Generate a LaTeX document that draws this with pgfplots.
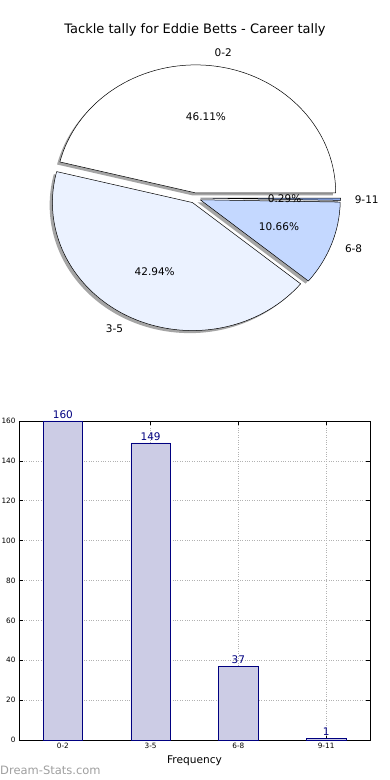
\documentclass[border=0pt]{standalone}
\usepackage{fontspec}
\setmainfont{DejaVu Sans}
\usepackage{pgfplots}
\pgfplotsset{compat=1.18}
\definecolor{cthree}{RGB}{235,242,255}
\definecolor{csix}{RGB}{196,216,255}
\definecolor{cnine}{RGB}{140,170,235}
\definecolor{barfill}{RGB}{204,204,229}
\definecolor{navy}{RGB}{0,0,128}
\definecolor{shadowgray}{gray}{0.3}
\begin{document}
\begin{tikzpicture}
\useasboundingbox (0,0) rectangle (390pt,780pt);
% ---------------- pie ----------------
\begin{axis}[at={(195pt,582pt)}, anchor=center, scale only axis,
  width=392pt, height=358.4pt, xmin=-1.4, xmax=1.4, ymin=-1.4, ymax=1.4,
  hide axis, clip=false]
% shadows (offset -0.02,-0.02)
\fill[shadowgray, opacity=0.5] (axis cs:-0.0151,0.0197) -- ++(0:140pt and 128pt) arc[start angle=0, end angle=165.996, x radius=140pt, y radius=128pt] -- cycle;
\fill[shadowgray, opacity=0.5] (axis cs:-0.0380,-0.0557) -- ++(165.996:140pt and 128pt) arc[start angle=165.996, end angle=320.58, x radius=140pt, y radius=128pt] -- cycle;
\fill[shadowgray, opacity=0.5] (axis cs:0.0175,-0.0338) -- ++(320.58:140pt and 128pt) arc[start angle=320.58, end angle=358.956, x radius=140pt, y radius=128pt] -- cycle;
\fill[shadowgray, opacity=0.5] (axis cs:0.0200,-0.0204) -- ++(358.956:140pt and 128pt) arc[start angle=358.956, end angle=360, x radius=140pt, y radius=128pt] -- cycle;
% wedges
\filldraw[fill=white, draw=black, line width=0.5pt, line join=round] (axis cs:0.0049,0.0397) -- ++(0:140pt and 128pt) arc[start angle=0, end angle=165.996, x radius=140pt, y radius=128pt] -- cycle;
\filldraw[fill=cthree, draw=black, line width=0.5pt, line join=round] (axis cs:-0.0180,-0.0357) -- ++(165.996:140pt and 128pt) arc[start angle=165.996, end angle=320.58, x radius=140pt, y radius=128pt] -- cycle;
\filldraw[fill=csix, draw=black, line width=0.5pt, line join=round] (axis cs:0.0375,-0.0138) -- ++(320.58:140pt and 128pt) arc[start angle=320.58, end angle=358.956, x radius=140pt, y radius=128pt] -- cycle;
\filldraw[fill=cnine, draw=black, line width=0.5pt, line join=round] (axis cs:0.0400,-0.0004) -- ++(358.956:140pt and 128pt) arc[start angle=358.956, end angle=360, x radius=140pt, y radius=128pt] -- cycle;
% labels
\begin{scope}[font=\fontsize{10.5}{12}\selectfont]
\node[anchor=west, inner sep=0pt] at (axis cs:0.139,1.1315) {0-2};
\node[anchor=east, inner sep=0pt] at (axis cs:-0.512,-1.018) {3-5};
\node[anchor=west, inner sep=0pt] at (axis cs:1.070,-0.394) {6-8};
\node[anchor=west, inner sep=0pt] at (axis cs:1.140,-0.0104) {9-11};
\node[inner sep=0pt] at (axis cs:0.078,0.635) {46.11\%};
\node[inner sep=0pt] at (axis cs:-0.288,-0.572) {42.94\%};
\node[inner sep=0pt] at (axis cs:0.600,-0.221) {10.66\%};
\node[inner sep=0pt] at (axis cs:0.640,-0.0059) {0.29\%};
\end{scope}
\node[inner sep=0pt, font=\fontsize{13}{15}\selectfont] at (axis cs:0,1.3125) {Tackle tally for Eddie Betts - Career tally};
\end{axis}
% ---------------- bars ----------------
\begin{axis}[at={(19pt,40pt)}, anchor=south west, scale only axis,
  width=351pt, height=319pt,
  xmin=-0.5, xmax=3.5, ymin=0, ymax=160,
  xtick={0,1,2,3}, xticklabels={0-2,3-5,6-8,9-11},
  ytick={0,20,...,160},
  /pgf/number format/assume math mode=true,
  ticklabel style={font=\fontsize{7.3}{8}\selectfont},
  tick align=inside, major tick length=4pt,
  tick style={black, line width=0.5pt},
  axis line style={line width=0.8pt},
  grid=major, grid style={dotted, gray!60, line width=0.6pt},
  xlabel={Frequency}, xlabel style={font=\fontsize{10.6}{12}\selectfont},
  clip=false]
\addplot[ybar, bar width=0.45, fill=barfill, draw=navy, line width=0.6pt,
  nodes near coords, nodes near coords style={font=\fontsize{10.5}{12}\selectfont, text=navy, anchor=south, inner sep=2pt}]
  coordinates {(0,160) (1,149) (2,37) (3,1)};
\node[anchor=west, inner sep=0pt, text=gray!75, font=\fontsize{11.5}{13}\selectfont] at (axis description cs:-0.054,-0.094) {Dream-Stats.com};
\end{axis}
\end{tikzpicture}
\end{document}
